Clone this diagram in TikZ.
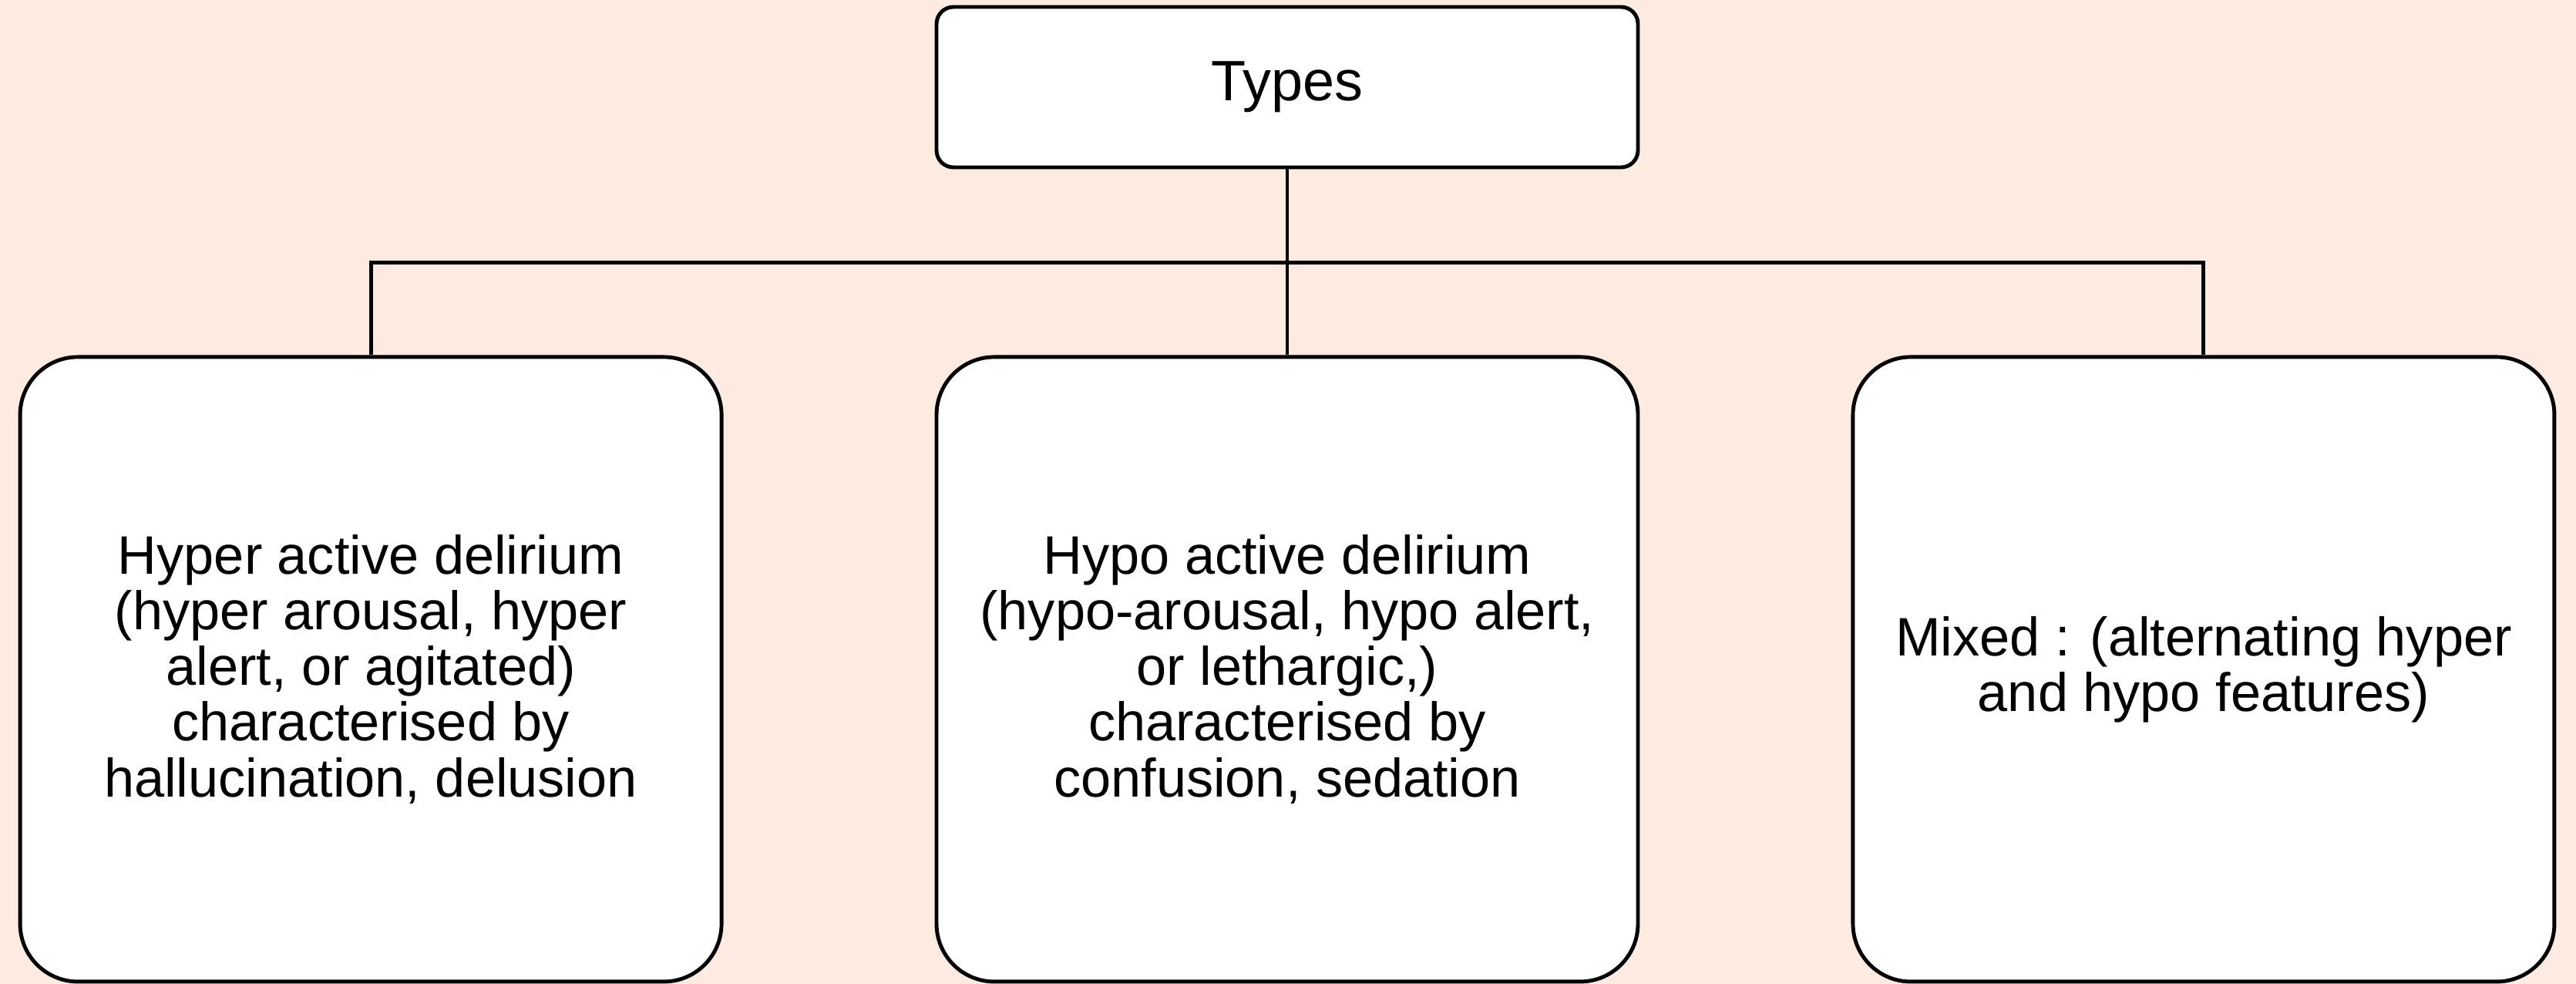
\documentclass[tikz,border=0pt]{standalone}
\usepackage{fontspec}
\setmainfont{Liberation Sans}
\usetikzlibrary{positioning}
\definecolor{peach}{HTML}{FDEBE1}

\begin{document}
\begin{tikzpicture}[line width=1.4pt,
	head/.style={draw, fill=white, rounded corners=0.22cm, minimum width=9.1cm, minimum height=2.08cm, font=\fontsize{21}{21}\selectfont},
	kind/.style={draw, fill=white, rounded corners=0.75cm, minimum width=9.1cm, minimum height=8.1cm, align=center, font=\fontsize{20}{20.5}\selectfont}]
	\fill[peach] (0,0) rectangle (33.42,-12.76);
	\useasboundingbox (0,0) rectangle (33.42,-12.76);
	\node[head] (types) at (16.70,-1.13) {Types};
	\node[kind, below=2.41cm of types] (hypo) {Hypo active delirium\\(hypo-arousal, hypo alert,\\or lethargic,)\\characterised by\\confusion, sedation};
	\node[kind, left=2.74cm of hypo] (hyper) {Hyper active delirium\\(hyper arousal, hyper\\alert, or agitated)\\characterised by\\hallucination, delusion};
	\node[kind, right=2.74cm of hypo] (mixed) {Mixed : (alternating hyper\\and hypo features)};
	\coordinate (bar) at ([yshift=-1.21cm]types.south);
	\draw (types) -- (hypo);
	\draw (hyper.north) |- (bar) -| (mixed.north);
\end{tikzpicture}
\end{document}
